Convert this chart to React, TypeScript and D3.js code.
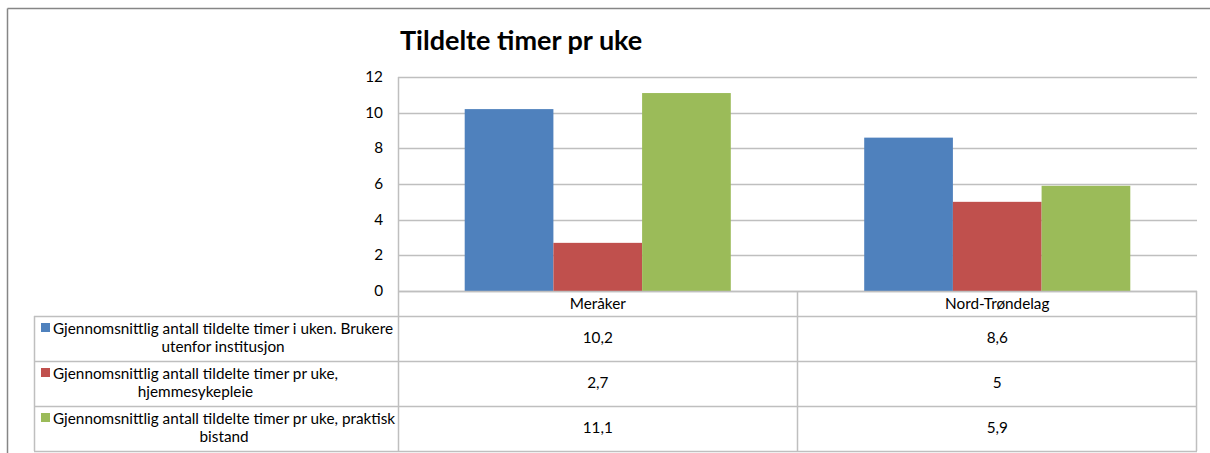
import React from "react";
import * as d3 from "d3";

const categories = ["Meråker", "Nord-Trøndelag"];
const seriesNames = [
  ["Gjennomsnittlig antall tildelte timer i uken. Brukere", "utenfor institusjon"],
  ["Gjennomsnittlig antall tildelte timer pr uke,", "hjemmesykepleie"],
  ["Gjennomsnittlig antall tildelte timer pr uke, praktisk", "bistand"],
];
const seriesColors = ["#4F81BD", "#C0504D", "#9BBB59"];
const blueValues = [10.2, 8.6];
const redValues = [2.7, 5];
const greenValues = [11.1, 5.9];
const yTicks = [0, 2, 4, 6, 8, 10, 12];
const title = "Tildelte timer pr uke";

const W = 1210;
const H = 453;
const FONT = "Lato, 'Open Sans', sans-serif";
const FS = 15.3;

export default function App() {
  const series = [blueValues, redValues, greenValues];
  const plotLeft = 398;
  const plotRight = 1197;
  const plotTop = 77;
  const plotBottom = 291;
  const tableLeft = 34;
  const headerBottom = 316;
  const rowH = 45;

  const x = d3.scaleBand().domain(categories).range([plotLeft, plotRight]).paddingInner(0).paddingOuter(0);
  const inner = d3
    .scaleBand()
    .domain(series.map((_, i) => String(i)))
    .range([0, x.bandwidth()])
    .paddingOuter(0.752)
    .paddingInner(0);
  const y = d3.scaleLinear().domain([0, 12]).range([plotBottom, plotTop]);
  const grid = "#BFBFBF";
  const fmt = (v: number) => String(v).replace(".", ",");

  return (
    <svg width={W} height={H} style={{ position: "absolute", left: 0, top: 0, background: "#fff" }}>
      <rect x={0} y={0} width={W} height={H} fill="#fff" />
      <line x1={7.5} y1={8.5} x2={W} y2={8.5} stroke="#868686" strokeWidth={1.5} />
      <line x1={7.5} y1={8.5} x2={7.5} y2={H} stroke="#868686" strokeWidth={1.5} />

      <text x={400} y={50} fontFamily={FONT} fontWeight={700} fontSize={27} fill="#000">
        {title}
      </text>

      {yTicks.map((t) => (
        <line key={t} x1={plotLeft} x2={plotRight} y1={Math.round(y(t)) + 0.5} y2={Math.round(y(t)) + 0.5} stroke={grid} strokeWidth={1.5} />
      ))}
      {yTicks.map((t) => (
        <text key={"l" + t} x={383} y={y(t) + 5} textAnchor="end" fontFamily={FONT} fontSize={FS} fill="#000">
          {t}
        </text>
      ))}

      {categories.map((c, ci) =>
        series.map((s, si) => (
          <rect
            key={c + si}
            x={(x(c) as number) + (inner(String(si)) as number)}
            y={y(s[ci])}
            width={inner.bandwidth()}
            height={plotBottom - y(s[ci])}
            fill={seriesColors[si]}
          />
        ))
      )}
      <line x1={plotLeft} x2={plotRight} y1={plotBottom + 0.5} y2={plotBottom + 0.5} stroke={grid} strokeWidth={1.5} />
      <line x1={plotLeft + 0.5} x2={plotLeft + 0.5} y1={plotTop} y2={headerBottom + rowH * 3} stroke={grid} strokeWidth={1.5} />

      {categories.map((c) => (
        <text key={"h" + c} x={(x(c) as number) + x.bandwidth() / 2} y={309} textAnchor="middle" fontFamily={FONT} fontSize={FS} fill="#000">
          {c}
        </text>
      ))}
      <line x1={797.5} x2={797.5} y1={plotBottom} y2={headerBottom + rowH * 3} stroke={grid} strokeWidth={1.5} />
      <line x1={1196.5} x2={1196.5} y1={plotBottom} y2={headerBottom + rowH * 3} stroke={grid} strokeWidth={1.5} />
      <line x1={tableLeft + 0.5} x2={tableLeft + 0.5} y1={headerBottom} y2={headerBottom + rowH * 3} stroke={grid} strokeWidth={1.5} />
      {[0, 1, 2, 3].map((r) => (
        <line key={"r" + r} x1={tableLeft} x2={plotRight} y1={headerBottom + r * rowH + 0.5} y2={headerBottom + r * rowH + 0.5} stroke={grid} strokeWidth={1.5} />
      ))}
      {seriesNames.map((lines, si) => {
        const top = headerBottom + si * rowH;
        return (
          <g key={"s" + si}>
            <rect x={41} y={top + 7} width={9} height={9} fill={seriesColors[si]} />
            <LegendLabel lines={lines} left={53} top={top} />
            {categories.map((c, ci) => (
              <text key={c} x={(x(c) as number) + x.bandwidth() / 2} y={top + 27} textAnchor="middle" fontFamily={FONT} fontSize={FS} fill="#000">
                {fmt(series[si][ci])}
              </text>
            ))}
          </g>
        );
      })}
    </svg>
  );
}

function LegendLabel({ lines, left, top }: { lines: string[]; left: number; top: number }) {
  const refs = [React.useRef<SVGTextElement>(null), React.useRef<SVGTextElement>(null)];
  const [widths, setWidths] = React.useState<number[]>([0, 0]);
  React.useEffect(() => {
    setWidths(refs.map((r) => (r.current ? r.current.getComputedTextLength() : 0)));
  }, [lines.join("|")]);
  const maxW = Math.max(...widths);
  const cx = left + maxW / 2;
  const ready = maxW > 0;
  return (
    <g>
      {lines.map((l, i) => (
        <text
          key={i}
          ref={refs[i]}
          x={ready ? cx : left}
          y={top + 18 + i * 18}
          textAnchor={ready ? "middle" : "start"}
          fontFamily={FONT}
          fontSize={FS}
          fill="#000"
        >
          {l}
        </text>
      ))}
    </g>
  );
}
